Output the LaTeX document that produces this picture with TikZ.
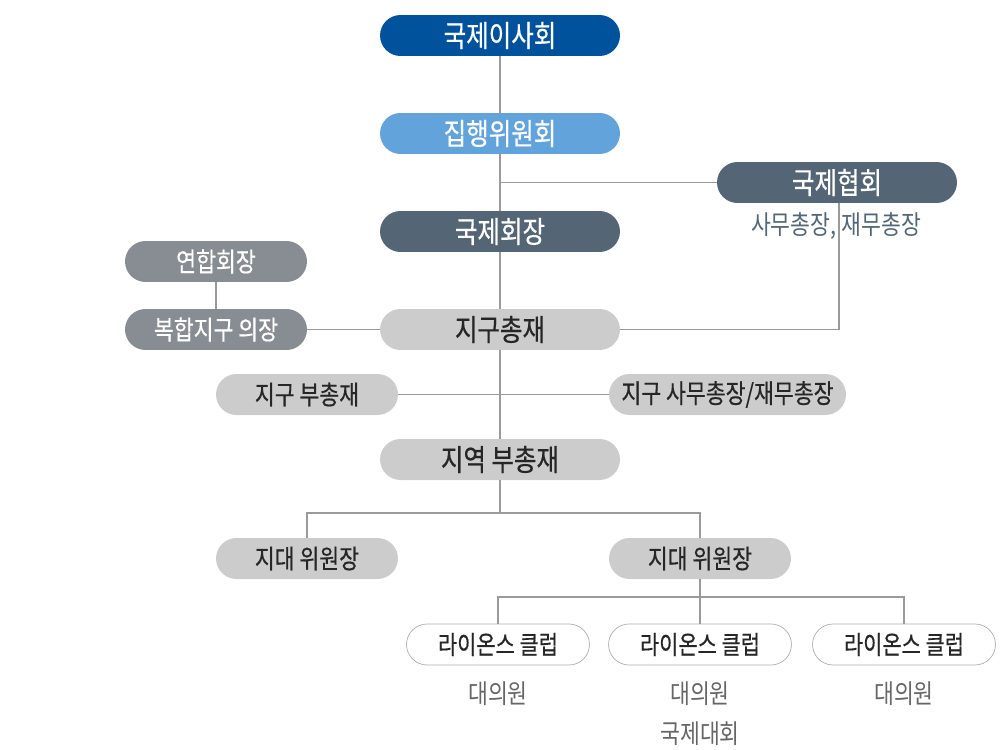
\documentclass[tikz,border=0pt]{standalone}
\usepackage{fontspec}
\setmainfont{Noto Sans CJK KR}[FakeStretch=0.82]
\newfontfamily\pillfont{Noto Sans CJK KR}[FakeStretch=0.82, FakeBold=0.5]

\definecolor{navy}{HTML}{00529C}
\definecolor{sky}{HTML}{62A3DC}
\definecolor{slate}{HTML}{546676}
\definecolor{ash}{HTML}{878D92}
\definecolor{pale}{HTML}{CCCCCC}
\definecolor{wire}{HTML}{9A9A9A}

\tikzset{
    pill/.style={rounded corners=0.41cm, minimum height=0.82cm, inner sep=0pt},
    big/.style={pill, minimum width=4.8cm, font=\pillfont\fontsize{17}{17}\selectfont},
    small/.style={pill, minimum width=3.64cm, font=\pillfont\fontsize{15}{15}\selectfont},
    club/.style={pill, minimum width=3.66cm, fill=white, draw=wire!80, font=\pillfont\fontsize{14.5}{14.5}\selectfont},
    note/.style={font=\fontsize{15}{15}\selectfont, text=black!60},
    wire/.style={draw=wire, line width=0.6pt}
}

\begin{document}
\begin{tikzpicture}[x=0.02cm, y=-0.02cm]

    \useasboundingbox (0,0) rectangle (1000,750);

    % top
    \node[big, fill=navy, text=white] (board) at (500,35.5) {국제이사회};
    \node[big, fill=sky, text=white] (exec) at (500,133.5) {집행위원회};
    \node[big, fill=slate, text=white] (assoc) at (837,182.5) {국제협회};
    \node[note, text=slate] (officers) at (836,226) {사무총장, 재무총장};
    \node[big, fill=slate, text=white] (pres) at (500,231.5) {국제회장};

    % district
    \node[small, fill=ash, text=white] (council) at (216,261.5) {연합회장};
    \node[small, fill=ash, text=white] (mdchair) at (216,329.5) {복합지구 의장};
    \node[big, fill=pale, text=black!85] (governor) at (500,329.5) {지구총재};
    \node[small, fill=pale, text=black!85] (vice) at (307,394.5) {지구 부총재};
    \node[small, fill=pale, text=black!85, minimum width=4.74cm] (secretary) at (727.5,394.5) {지구 사무총장/재무총장};
    \node[big, fill=pale, text=black!85] (region) at (500,459.5) {지역 부총재};

    % zones
    \node[small, fill=pale, text=black!85] (zoneA) at (307,558.5) {지대 위원장};
    \node[small, fill=pale, text=black!85] (zoneB) at (700,558.5) {지대 위원장};

    % clubs
    \foreach \n/\x in {1/498,2/700,3/904} {
        \node[club, text=black!85] (club\n) at (\x,644.5) {라이온스 클럽};
        \node[note] (delegate\n) at (\x,694) {대의원};
    }
    \node[note] (convention) at (700,734) {국제대회};

    % lines
    \coordinate (split) at (500,182.5);
    \coordinate (fork) at (500,513);
    \coordinate (branch) at (700,597);

    \draw[wire] (board) -- (exec);
    \draw[wire] (exec) -- (pres);
    \draw[wire] (split) -- (assoc.west);
    \draw[wire] (assoc.south) ++(2,0) |- (governor.east);
    \draw[wire] (pres) -- (governor);
    \draw[wire] (council) -- (mdchair);
    \draw[wire] (mdchair) -- (governor);
    \draw[wire] (governor) -- (region);
    \draw[wire] (vice) -- (secretary);
    \draw[wire] (region) -- (fork);
    \draw[wire] (zoneA.north) |- (fork) -| (zoneB.north);
    \draw[wire] (zoneB) -- (branch);
    \draw[wire] (club1.north) |- (branch) -| (club3.north);
    \draw[wire] (branch) -- (club2);

\end{tikzpicture}
\end{document}
